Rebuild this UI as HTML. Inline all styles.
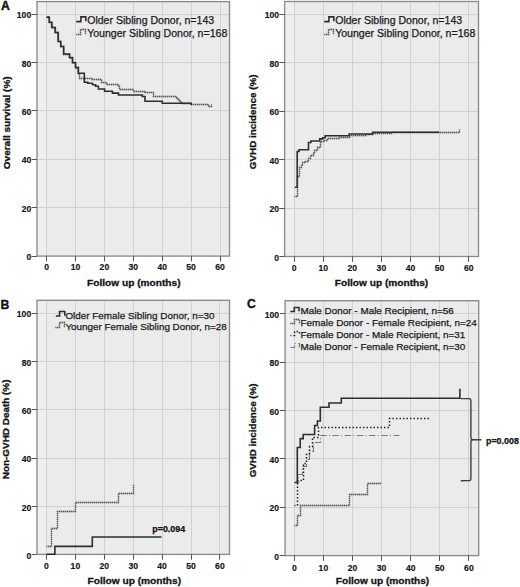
<!DOCTYPE html>
<html><head><meta charset="utf-8"><style>
html,body{margin:0;padding:0;background:#fff;}
svg{display:block;}
text{font-family:"Liberation Sans", sans-serif;fill:#111;}
.tk{font-size:8.6px;font-weight:bold;stroke:#111;stroke-width:0.15px;}
.pl{font-size:12.2px;font-weight:bold;stroke:#111;stroke-width:0.35px;}
.ax{font-weight:bold;stroke:#111;stroke-width:0.3px;}
.lg{fill:#1a1a1a;stroke:#1a1a1a;stroke-width:0.25px;}
.pv{font-size:8.9px;font-weight:bold;stroke:#111;stroke-width:0.25px;}
</style></head><body>
<svg width="520" height="587" viewBox="0 0 520 587">
<rect x="37.0" y="1.6" width="192.5" height="254.50000000000003" fill="#ebebeb"/>
<rect x="37.0" y="1.6" width="9.00" height="254.50000000000003" fill="#efefef"/>
<line x1="46.5" y1="1.6" x2="46.5" y2="256.1" stroke="#d1d1d1" stroke-width="1"/>
<line x1="75.5" y1="1.6" x2="75.5" y2="256.1" stroke="#d1d1d1" stroke-width="1"/>
<line x1="104.5" y1="1.6" x2="104.5" y2="256.1" stroke="#d1d1d1" stroke-width="1"/>
<line x1="133.5" y1="1.6" x2="133.5" y2="256.1" stroke="#d1d1d1" stroke-width="1"/>
<line x1="162.5" y1="1.6" x2="162.5" y2="256.1" stroke="#d1d1d1" stroke-width="1"/>
<line x1="191.5" y1="1.6" x2="191.5" y2="256.1" stroke="#d1d1d1" stroke-width="1"/>
<line x1="220.5" y1="1.6" x2="220.5" y2="256.1" stroke="#d1d1d1" stroke-width="1"/>
<line x1="37.0" y1="207.5" x2="229.5" y2="207.5" stroke="#d1d1d1" stroke-width="1"/>
<line x1="37.0" y1="159.5" x2="229.5" y2="159.5" stroke="#d1d1d1" stroke-width="1"/>
<line x1="37.0" y1="110.5" x2="229.5" y2="110.5" stroke="#d1d1d1" stroke-width="1"/>
<line x1="37.0" y1="62.5" x2="229.5" y2="62.5" stroke="#d1d1d1" stroke-width="1"/>
<line x1="37.0" y1="14.5" x2="229.5" y2="14.5" stroke="#d1d1d1" stroke-width="1"/>
<rect x="37.0" y="1.6" width="192.5" height="254.50000000000003" fill="none" stroke="#8a8a8a" stroke-width="1.35"/>
<line x1="46.5" y1="256.1" x2="46.5" y2="261.40000000000003" stroke="#555" stroke-width="1"/>
<text x="46.60" y="270.0" text-anchor="middle" class="tk">0</text>
<line x1="75.5" y1="256.1" x2="75.5" y2="261.40000000000003" stroke="#555" stroke-width="1"/>
<text x="75.50" y="270.0" text-anchor="middle" class="tk">10</text>
<line x1="104.5" y1="256.1" x2="104.5" y2="261.40000000000003" stroke="#555" stroke-width="1"/>
<text x="104.40" y="270.0" text-anchor="middle" class="tk">20</text>
<line x1="133.5" y1="256.1" x2="133.5" y2="261.40000000000003" stroke="#555" stroke-width="1"/>
<text x="133.30" y="270.0" text-anchor="middle" class="tk">30</text>
<line x1="162.5" y1="256.1" x2="162.5" y2="261.40000000000003" stroke="#555" stroke-width="1"/>
<text x="162.20" y="270.0" text-anchor="middle" class="tk">40</text>
<line x1="191.5" y1="256.1" x2="191.5" y2="261.40000000000003" stroke="#555" stroke-width="1"/>
<text x="191.10" y="270.0" text-anchor="middle" class="tk">50</text>
<line x1="220.5" y1="256.1" x2="220.5" y2="261.40000000000003" stroke="#555" stroke-width="1"/>
<text x="220.00" y="270.0" text-anchor="middle" class="tk">60</text>
<line x1="31.7" y1="256.5" x2="37.0" y2="256.5" stroke="#555" stroke-width="1"/>
<text x="31.2" y="260.10" text-anchor="end" class="tk">0</text>
<line x1="31.7" y1="207.5" x2="37.0" y2="207.5" stroke="#555" stroke-width="1"/>
<text x="31.2" y="211.74" text-anchor="end" class="tk">20</text>
<line x1="31.7" y1="159.5" x2="37.0" y2="159.5" stroke="#555" stroke-width="1"/>
<text x="31.2" y="163.38" text-anchor="end" class="tk">40</text>
<line x1="31.7" y1="110.5" x2="37.0" y2="110.5" stroke="#555" stroke-width="1"/>
<text x="31.2" y="115.02" text-anchor="end" class="tk">60</text>
<line x1="31.7" y1="62.5" x2="37.0" y2="62.5" stroke="#555" stroke-width="1"/>
<text x="31.2" y="66.66" text-anchor="end" class="tk">80</text>
<line x1="31.7" y1="14.5" x2="37.0" y2="14.5" stroke="#555" stroke-width="1"/>
<text x="31.2" y="18.30" text-anchor="end" class="tk">100</text>
<text x="0.9" y="9.7" class="pl">A</text>
<text transform="translate(9.9,122.8) rotate(-90) scale(1,0.95)" text-anchor="middle" class="ax" style="font-size:10.0px">Overall survival (%)</text>
<text transform="translate(133.8,285.7) scale(1,0.9)" text-anchor="middle" class="ax" style="font-size:10.15px">Follow up (months)</text>
<polyline points="46.50,17.50 49.50,17.50 49.50,22.50 51.50,22.50 51.50,27.50 55.50,27.50 55.50,32.50 58.50,32.50 58.50,41.50 60.50,41.50 60.50,46.50 63.50,46.50 63.50,54.50 69.50,54.50 69.50,57.50 72.50,57.50 72.50,62.50 75.50,62.50 75.50,67.50 78.50,67.50 78.50,73.50 79.50,73.50 79.50,78.50 92.50,78.50 92.50,79.50 101.50,79.50 101.50,82.50 106.50,82.50 106.50,84.50 118.50,84.50 118.50,86.50 119.50,86.50 119.50,89.50 133.50,89.50 133.50,91.50 144.50,91.50 144.50,92.50 153.50,92.50 153.50,96.50 176.50,96.50 176.50,98.50 177.50,98.50 177.50,99.50 179.50,99.50 179.50,101.50 180.50,101.50 180.50,102.50 182.50,102.50 182.50,103.50 191.50,103.50 191.50,104.50 208.50,104.50 208.50,106.50 211.50,106.50 211.50,104.50" fill="none" stroke="#a2a2a2" stroke-width="1.3"/>
<polyline points="46.50,17.50 49.50,17.50 49.50,22.50 51.50,22.50 51.50,27.50 55.50,27.50 55.50,32.50 58.50,32.50 58.50,41.50 60.50,41.50 60.50,46.50 63.50,46.50 63.50,54.50 69.50,54.50 69.50,57.50 72.50,57.50 72.50,62.50 75.50,62.50 75.50,67.50 78.50,67.50 78.50,73.50 79.50,73.50 79.50,78.50 92.50,78.50 92.50,79.50 101.50,79.50 101.50,82.50 106.50,82.50 106.50,84.50 118.50,84.50 118.50,86.50 119.50,86.50 119.50,89.50 133.50,89.50 133.50,91.50 144.50,91.50 144.50,92.50 153.50,92.50 153.50,96.50 176.50,96.50 176.50,98.50 177.50,98.50 177.50,99.50 179.50,99.50 179.50,101.50 180.50,101.50 180.50,102.50 182.50,102.50 182.50,103.50 191.50,103.50 191.50,104.50 208.50,104.50 208.50,106.50 211.50,106.50 211.50,104.50" fill="none" stroke="#585858" stroke-width="1.3" stroke-dasharray="1,1" stroke-dashoffset="0.5"/>
<polyline points="46.60,17.10 49.20,17.10 49.20,22.30 51.90,22.30 51.90,27.50 55.10,27.50 55.10,32.50 58.10,32.50 58.10,41.50 60.80,41.50 60.80,46.50 63.70,46.50 63.70,54.00 69.60,54.00 69.60,57.80 72.50,57.80 72.50,62.80 75.50,62.80 75.50,67.60 78.30,67.60 78.30,73.20 84.30,73.20 84.30,82.30 87.70,82.30 87.70,83.30 92.60,83.30 92.60,84.80 95.60,84.80 95.60,86.20 98.40,86.20 98.40,89.00 104.60,89.00 104.60,91.20 112.40,91.20 112.40,93.10 118.50,93.10 118.50,95.00 142.30,95.00 142.30,96.50 145.00,96.50 145.00,101.30 162.30,101.30 162.30,103.20 191.10,103.20 191.10,105.00" fill="none" stroke="#2e2e2e" stroke-width="1.6"/>
<polyline points="76.30,21.60 80.90,21.60 80.90,16.90 85.80,16.90 85.80,21.30" fill="none" stroke="#2e2e2e" stroke-width="1.6"/>
<text x="87.2" y="24.2" class="lg" style="font-size:10.56px">Older Sibling Donor, n=143</text>
<polyline points="76.50,34.50 80.50,34.50 80.50,29.50 85.50,29.50 85.50,34.50" fill="none" stroke="#a2a2a2" stroke-width="1.3"/>
<polyline points="76.50,34.50 80.50,34.50 80.50,29.50 85.50,29.50 85.50,34.50" fill="none" stroke="#585858" stroke-width="1.3" stroke-dasharray="1,1" stroke-dashoffset="0.5"/>
<text x="87.2" y="37.3" class="lg" style="font-size:10.56px">Younger Sibling Donor, n=168</text>
<rect x="284.6" y="1.5" width="193.89999999999998" height="255.0" fill="#ebebeb"/>
<rect x="284.6" y="1.5" width="9.40" height="255.0" fill="#efefef"/>
<line x1="294.5" y1="1.5" x2="294.5" y2="256.5" stroke="#d1d1d1" stroke-width="1"/>
<line x1="323.5" y1="1.5" x2="323.5" y2="256.5" stroke="#d1d1d1" stroke-width="1"/>
<line x1="352.5" y1="1.5" x2="352.5" y2="256.5" stroke="#d1d1d1" stroke-width="1"/>
<line x1="381.5" y1="1.5" x2="381.5" y2="256.5" stroke="#d1d1d1" stroke-width="1"/>
<line x1="410.5" y1="1.5" x2="410.5" y2="256.5" stroke="#d1d1d1" stroke-width="1"/>
<line x1="439.5" y1="1.5" x2="439.5" y2="256.5" stroke="#d1d1d1" stroke-width="1"/>
<line x1="468.5" y1="1.5" x2="468.5" y2="256.5" stroke="#d1d1d1" stroke-width="1"/>
<line x1="284.6" y1="208.5" x2="478.5" y2="208.5" stroke="#d1d1d1" stroke-width="1"/>
<line x1="284.6" y1="159.5" x2="478.5" y2="159.5" stroke="#d1d1d1" stroke-width="1"/>
<line x1="284.6" y1="111.5" x2="478.5" y2="111.5" stroke="#d1d1d1" stroke-width="1"/>
<line x1="284.6" y1="62.5" x2="478.5" y2="62.5" stroke="#d1d1d1" stroke-width="1"/>
<line x1="284.6" y1="14.5" x2="478.5" y2="14.5" stroke="#d1d1d1" stroke-width="1"/>
<rect x="284.6" y="1.5" width="193.89999999999998" height="255.0" fill="none" stroke="#8a8a8a" stroke-width="1.35"/>
<line x1="294.5" y1="256.5" x2="294.5" y2="261.8" stroke="#555" stroke-width="1"/>
<text x="294.10" y="271.2" text-anchor="middle" class="tk">0</text>
<line x1="323.5" y1="256.5" x2="323.5" y2="261.8" stroke="#555" stroke-width="1"/>
<text x="323.20" y="271.2" text-anchor="middle" class="tk">10</text>
<line x1="352.5" y1="256.5" x2="352.5" y2="261.8" stroke="#555" stroke-width="1"/>
<text x="352.30" y="271.2" text-anchor="middle" class="tk">20</text>
<line x1="381.5" y1="256.5" x2="381.5" y2="261.8" stroke="#555" stroke-width="1"/>
<text x="381.40" y="271.2" text-anchor="middle" class="tk">30</text>
<line x1="410.5" y1="256.5" x2="410.5" y2="261.8" stroke="#555" stroke-width="1"/>
<text x="410.50" y="271.2" text-anchor="middle" class="tk">40</text>
<line x1="439.5" y1="256.5" x2="439.5" y2="261.8" stroke="#555" stroke-width="1"/>
<text x="439.60" y="271.2" text-anchor="middle" class="tk">50</text>
<line x1="468.5" y1="256.5" x2="468.5" y2="261.8" stroke="#555" stroke-width="1"/>
<text x="468.70" y="271.2" text-anchor="middle" class="tk">60</text>
<line x1="279.3" y1="256.5" x2="284.6" y2="256.5" stroke="#555" stroke-width="1"/>
<text x="279.1" y="260.60" text-anchor="end" class="tk">0</text>
<line x1="279.3" y1="208.5" x2="284.6" y2="208.5" stroke="#555" stroke-width="1"/>
<text x="279.1" y="212.16" text-anchor="end" class="tk">20</text>
<line x1="279.3" y1="159.5" x2="284.6" y2="159.5" stroke="#555" stroke-width="1"/>
<text x="279.1" y="163.72" text-anchor="end" class="tk">40</text>
<line x1="279.3" y1="111.5" x2="284.6" y2="111.5" stroke="#555" stroke-width="1"/>
<text x="279.1" y="115.28" text-anchor="end" class="tk">60</text>
<line x1="279.3" y1="62.5" x2="284.6" y2="62.5" stroke="#555" stroke-width="1"/>
<text x="279.1" y="66.84" text-anchor="end" class="tk">80</text>
<line x1="279.3" y1="14.5" x2="284.6" y2="14.5" stroke="#555" stroke-width="1"/>
<text x="279.1" y="18.40" text-anchor="end" class="tk">100</text>
<text transform="translate(256.2,121.8) rotate(-90) scale(1,0.95)" text-anchor="middle" class="ax" style="font-size:9.88px">GVHD incidence (%)</text>
<text transform="translate(381.5,285.7) scale(1,0.9)" text-anchor="middle" class="ax" style="font-size:10.15px">Follow up (months)</text>
<polyline points="294.50,196.50 297.50,196.50 297.50,176.50 299.50,176.50 299.50,167.50 301.50,167.50 301.50,165.50 302.50,165.50 302.50,162.50 305.50,162.50 305.50,161.50 308.50,161.50 308.50,158.50 310.50,158.50 310.50,155.50 313.50,155.50 313.50,153.50 314.50,153.50 314.50,150.50 316.50,150.50 316.50,149.50 317.50,149.50 317.50,147.50 319.50,147.50 319.50,146.50 320.50,146.50 320.50,141.50 324.50,141.50 324.50,140.50 327.50,140.50 327.50,138.50 339.50,138.50 339.50,137.50 349.50,137.50 349.50,135.50 366.50,135.50 366.50,134.50 372.50,134.50 372.50,133.50 391.50,133.50 391.50,132.50 459.50,132.50 459.50,129.50" fill="none" stroke="#a2a2a2" stroke-width="1.3"/>
<polyline points="294.50,196.50 297.50,196.50 297.50,176.50 299.50,176.50 299.50,167.50 301.50,167.50 301.50,165.50 302.50,165.50 302.50,162.50 305.50,162.50 305.50,161.50 308.50,161.50 308.50,158.50 310.50,158.50 310.50,155.50 313.50,155.50 313.50,153.50 314.50,153.50 314.50,150.50 316.50,150.50 316.50,149.50 317.50,149.50 317.50,147.50 319.50,147.50 319.50,146.50 320.50,146.50 320.50,141.50 324.50,141.50 324.50,140.50 327.50,140.50 327.50,138.50 339.50,138.50 339.50,137.50 349.50,137.50 349.50,135.50 366.50,135.50 366.50,134.50 372.50,134.50 372.50,133.50 391.50,133.50 391.50,132.50 459.50,132.50 459.50,129.50" fill="none" stroke="#585858" stroke-width="1.3" stroke-dasharray="1,1" stroke-dashoffset="0.5"/>
<polyline points="294.80,187.30 297.20,187.30 297.20,151.50 299.00,151.50 299.00,149.70 308.50,149.70 308.50,142.50 310.90,142.50 310.90,141.00 319.70,141.00 319.70,138.90 322.80,138.90 322.80,137.70 325.20,137.70 325.20,135.80 349.20,135.80 349.20,134.00 372.60,134.00 372.60,132.20 439.30,132.20" fill="none" stroke="#2e2e2e" stroke-width="1.6"/>
<polyline points="324.30,21.60 328.90,21.60 328.90,16.90 333.80,16.90 333.80,21.30" fill="none" stroke="#2e2e2e" stroke-width="1.6"/>
<text x="335.2" y="24.2" class="lg" style="font-size:10.56px">Older Sibling Donor, n=143</text>
<polyline points="324.50,34.50 328.50,34.50 328.50,29.50 333.50,29.50 333.50,34.50" fill="none" stroke="#a2a2a2" stroke-width="1.3"/>
<polyline points="324.50,34.50 328.50,34.50 328.50,29.50 333.50,29.50 333.50,34.50" fill="none" stroke="#585858" stroke-width="1.3" stroke-dasharray="1,1" stroke-dashoffset="0.5"/>
<text x="335.2" y="37.3" class="lg" style="font-size:10.56px">Younger Sibling Donor, n=168</text>
<rect x="37.0" y="300.3" width="192.5" height="254.09999999999997" fill="#ebebeb"/>
<rect x="37.0" y="300.3" width="9.00" height="254.09999999999997" fill="#efefef"/>
<line x1="46.5" y1="300.3" x2="46.5" y2="554.4" stroke="#d1d1d1" stroke-width="1"/>
<line x1="75.5" y1="300.3" x2="75.5" y2="554.4" stroke="#d1d1d1" stroke-width="1"/>
<line x1="104.5" y1="300.3" x2="104.5" y2="554.4" stroke="#d1d1d1" stroke-width="1"/>
<line x1="133.5" y1="300.3" x2="133.5" y2="554.4" stroke="#d1d1d1" stroke-width="1"/>
<line x1="162.5" y1="300.3" x2="162.5" y2="554.4" stroke="#d1d1d1" stroke-width="1"/>
<line x1="191.5" y1="300.3" x2="191.5" y2="554.4" stroke="#d1d1d1" stroke-width="1"/>
<line x1="219.5" y1="300.3" x2="219.5" y2="554.4" stroke="#d1d1d1" stroke-width="1"/>
<line x1="37.0" y1="506.5" x2="229.5" y2="506.5" stroke="#d1d1d1" stroke-width="1"/>
<line x1="37.0" y1="458.5" x2="229.5" y2="458.5" stroke="#d1d1d1" stroke-width="1"/>
<line x1="37.0" y1="409.5" x2="229.5" y2="409.5" stroke="#d1d1d1" stroke-width="1"/>
<line x1="37.0" y1="361.5" x2="229.5" y2="361.5" stroke="#d1d1d1" stroke-width="1"/>
<line x1="37.0" y1="313.5" x2="229.5" y2="313.5" stroke="#d1d1d1" stroke-width="1"/>
<rect x="37.0" y="300.3" width="192.5" height="254.09999999999997" fill="none" stroke="#8a8a8a" stroke-width="1.35"/>
<line x1="46.5" y1="554.4" x2="46.5" y2="559.6999999999999" stroke="#555" stroke-width="1"/>
<text x="46.50" y="569.3" text-anchor="middle" class="tk">0</text>
<line x1="75.5" y1="554.4" x2="75.5" y2="559.6999999999999" stroke="#555" stroke-width="1"/>
<text x="75.40" y="569.3" text-anchor="middle" class="tk">10</text>
<line x1="104.5" y1="554.4" x2="104.5" y2="559.6999999999999" stroke="#555" stroke-width="1"/>
<text x="104.30" y="569.3" text-anchor="middle" class="tk">20</text>
<line x1="133.5" y1="554.4" x2="133.5" y2="559.6999999999999" stroke="#555" stroke-width="1"/>
<text x="133.20" y="569.3" text-anchor="middle" class="tk">30</text>
<line x1="162.5" y1="554.4" x2="162.5" y2="559.6999999999999" stroke="#555" stroke-width="1"/>
<text x="162.10" y="569.3" text-anchor="middle" class="tk">40</text>
<line x1="191.5" y1="554.4" x2="191.5" y2="559.6999999999999" stroke="#555" stroke-width="1"/>
<text x="191.00" y="569.3" text-anchor="middle" class="tk">50</text>
<line x1="219.5" y1="554.4" x2="219.5" y2="559.6999999999999" stroke="#555" stroke-width="1"/>
<text x="219.90" y="569.3" text-anchor="middle" class="tk">60</text>
<line x1="31.7" y1="554.5" x2="37.0" y2="554.5" stroke="#555" stroke-width="1"/>
<text x="31.2" y="559.00" text-anchor="end" class="tk">0</text>
<line x1="31.7" y1="506.5" x2="37.0" y2="506.5" stroke="#555" stroke-width="1"/>
<text x="31.2" y="510.68" text-anchor="end" class="tk">20</text>
<line x1="31.7" y1="458.5" x2="37.0" y2="458.5" stroke="#555" stroke-width="1"/>
<text x="31.2" y="462.36" text-anchor="end" class="tk">40</text>
<line x1="31.7" y1="409.5" x2="37.0" y2="409.5" stroke="#555" stroke-width="1"/>
<text x="31.2" y="414.04" text-anchor="end" class="tk">60</text>
<line x1="31.7" y1="361.5" x2="37.0" y2="361.5" stroke="#555" stroke-width="1"/>
<text x="31.2" y="365.72" text-anchor="end" class="tk">80</text>
<line x1="31.7" y1="313.5" x2="37.0" y2="313.5" stroke="#555" stroke-width="1"/>
<text x="31.2" y="317.40" text-anchor="end" class="tk">100</text>
<text x="0.4" y="308.5" class="pl">B</text>
<text transform="translate(9.4,429.4) rotate(-90) scale(1,0.95)" text-anchor="middle" class="ax" style="font-size:9.93px">Non-GVHD Death (%)</text>
<text transform="translate(134.3,583.8) scale(1,0.9)" text-anchor="middle" class="ax" style="font-size:10.15px">Follow up (months)</text>
<polyline points="46.50,546.50 51.50,546.50 51.50,528.50 57.50,528.50 57.50,511.50 75.50,511.50 75.50,502.50 118.50,502.50 118.50,493.50 133.50,493.50 133.50,484.50" fill="none" stroke="#a2a2a2" stroke-width="1.3"/>
<polyline points="46.50,546.50 51.50,546.50 51.50,528.50 57.50,528.50 57.50,511.50 75.50,511.50 75.50,502.50 118.50,502.50 118.50,493.50 133.50,493.50 133.50,484.50" fill="none" stroke="#585858" stroke-width="1.3" stroke-dasharray="1,1" stroke-dashoffset="0.5"/>
<polyline points="46.70,554.20 54.90,554.20 54.90,546.40 92.30,546.40 92.30,537.00 161.50,537.00" fill="none" stroke="#2e2e2e" stroke-width="1.6"/>
<polyline points="55.80,316.00 59.60,316.00 59.60,311.50 64.80,311.50 64.80,315.70" fill="none" stroke="#2e2e2e" stroke-width="1.6"/>
<text x="65.4" y="318.5" class="lg" style="font-size:9.9px">Older Female Sibling Donor, n=30</text>
<polyline points="55.50,327.50 59.50,327.50 59.50,322.50 64.50,322.50 64.50,327.50" fill="none" stroke="#a2a2a2" stroke-width="1.3"/>
<polyline points="55.50,327.50 59.50,327.50 59.50,322.50 64.50,322.50 64.50,327.50" fill="none" stroke="#585858" stroke-width="1.3" stroke-dasharray="1,1" stroke-dashoffset="0.5"/>
<text x="65.4" y="329.8" class="lg" style="font-size:9.9px">Younger Female Sibling Donor, n=28</text>
<text x="152.3" y="531.8" class="pv">p=0.094</text>
<rect x="285.1" y="300.7" width="193.59999999999997" height="254.90000000000003" fill="#ebebeb"/>
<rect x="285.1" y="300.7" width="8.90" height="254.90000000000003" fill="#efefef"/>
<line x1="294.5" y1="300.7" x2="294.5" y2="555.6" stroke="#d1d1d1" stroke-width="1"/>
<line x1="323.5" y1="300.7" x2="323.5" y2="555.6" stroke="#d1d1d1" stroke-width="1"/>
<line x1="352.5" y1="300.7" x2="352.5" y2="555.6" stroke="#d1d1d1" stroke-width="1"/>
<line x1="381.5" y1="300.7" x2="381.5" y2="555.6" stroke="#d1d1d1" stroke-width="1"/>
<line x1="410.5" y1="300.7" x2="410.5" y2="555.6" stroke="#d1d1d1" stroke-width="1"/>
<line x1="439.5" y1="300.7" x2="439.5" y2="555.6" stroke="#d1d1d1" stroke-width="1"/>
<line x1="468.5" y1="300.7" x2="468.5" y2="555.6" stroke="#d1d1d1" stroke-width="1"/>
<line x1="285.1" y1="507.5" x2="478.7" y2="507.5" stroke="#d1d1d1" stroke-width="1"/>
<line x1="285.1" y1="458.5" x2="478.7" y2="458.5" stroke="#d1d1d1" stroke-width="1"/>
<line x1="285.1" y1="410.5" x2="478.7" y2="410.5" stroke="#d1d1d1" stroke-width="1"/>
<line x1="285.1" y1="362.5" x2="478.7" y2="362.5" stroke="#d1d1d1" stroke-width="1"/>
<line x1="285.1" y1="313.5" x2="478.7" y2="313.5" stroke="#d1d1d1" stroke-width="1"/>
<rect x="285.1" y="300.7" width="193.59999999999997" height="254.90000000000003" fill="none" stroke="#8a8a8a" stroke-width="1.35"/>
<line x1="294.5" y1="555.6" x2="294.5" y2="560.9" stroke="#555" stroke-width="1"/>
<text x="294.30" y="571.0" text-anchor="middle" class="tk">0</text>
<line x1="323.5" y1="555.6" x2="323.5" y2="560.9" stroke="#555" stroke-width="1"/>
<text x="323.40" y="571.0" text-anchor="middle" class="tk">10</text>
<line x1="352.5" y1="555.6" x2="352.5" y2="560.9" stroke="#555" stroke-width="1"/>
<text x="352.50" y="571.0" text-anchor="middle" class="tk">20</text>
<line x1="381.5" y1="555.6" x2="381.5" y2="560.9" stroke="#555" stroke-width="1"/>
<text x="381.60" y="571.0" text-anchor="middle" class="tk">30</text>
<line x1="410.5" y1="555.6" x2="410.5" y2="560.9" stroke="#555" stroke-width="1"/>
<text x="410.70" y="571.0" text-anchor="middle" class="tk">40</text>
<line x1="439.5" y1="555.6" x2="439.5" y2="560.9" stroke="#555" stroke-width="1"/>
<text x="439.80" y="571.0" text-anchor="middle" class="tk">50</text>
<line x1="468.5" y1="555.6" x2="468.5" y2="560.9" stroke="#555" stroke-width="1"/>
<text x="468.90" y="571.0" text-anchor="middle" class="tk">60</text>
<line x1="279.8" y1="555.5" x2="285.1" y2="555.5" stroke="#555" stroke-width="1"/>
<text x="279.1" y="559.60" text-anchor="end" class="tk">0</text>
<line x1="279.8" y1="507.5" x2="285.1" y2="507.5" stroke="#555" stroke-width="1"/>
<text x="279.1" y="511.28" text-anchor="end" class="tk">20</text>
<line x1="279.8" y1="458.5" x2="285.1" y2="458.5" stroke="#555" stroke-width="1"/>
<text x="279.1" y="462.96" text-anchor="end" class="tk">40</text>
<line x1="279.8" y1="410.5" x2="285.1" y2="410.5" stroke="#555" stroke-width="1"/>
<text x="279.1" y="414.64" text-anchor="end" class="tk">60</text>
<line x1="279.8" y1="362.5" x2="285.1" y2="362.5" stroke="#555" stroke-width="1"/>
<text x="279.1" y="366.32" text-anchor="end" class="tk">80</text>
<line x1="279.8" y1="313.5" x2="285.1" y2="313.5" stroke="#555" stroke-width="1"/>
<text x="279.1" y="318.00" text-anchor="end" class="tk">100</text>
<text x="247.0" y="308.1" class="pl">C</text>
<text transform="translate(255.9,430.4) rotate(-90) scale(1,0.95)" text-anchor="middle" class="ax" style="font-size:9.79px">GVHD incidence (%)</text>
<text transform="translate(382.5,583.9) scale(1,0.9)" text-anchor="middle" class="ax" style="font-size:10.15px">Follow up (months)</text>
<polyline points="294.50,525.50 297.50,525.50 297.50,515.50 300.50,515.50 300.50,505.50 349.50,505.50 349.50,494.50 367.50,494.50 367.50,483.50 381.50,483.50" fill="none" stroke="#a2a2a2" stroke-width="1.3"/>
<polyline points="294.50,525.50 297.50,525.50 297.50,515.50 300.50,515.50 300.50,505.50 349.50,505.50 349.50,494.50 367.50,494.50 367.50,483.50 381.50,483.50" fill="none" stroke="#585858" stroke-width="1.3" stroke-dasharray="1,1" stroke-dashoffset="0.5"/>
<polyline points="294.50,482.50 298.50,482.50 298.50,474.50 302.50,474.50 302.50,466.50 306.50,466.50 306.50,459.50 309.50,459.50 309.50,451.50 313.50,451.50 313.50,442.50 320.50,442.50 320.50,435.50 399.50,435.50" fill="none" stroke="#7a7a7a" stroke-width="1.2" stroke-dasharray="6.5,2.2,1,2.5" stroke-dashoffset="0.5"/>
<polyline points="294.50,505.50 297.50,505.50 297.50,480.50 303.50,480.50 303.50,463.50 306.50,463.50 306.50,454.50 309.50,454.50 309.50,446.50 312.50,446.50 312.50,437.50 318.50,437.50 318.50,427.50 389.50,427.50 389.50,418.50 430.50,418.50" fill="none" stroke="#1a1a1a" stroke-width="1.5" stroke-dasharray="1.4,2.1" stroke-dashoffset="0.5"/>
<polyline points="294.60,482.50 297.30,482.50 297.30,447.50 300.20,447.50 300.20,438.60 303.20,438.60 303.20,434.50 314.60,434.50 314.60,425.50 317.40,425.50 317.40,421.00 320.30,421.00 320.30,407.30 329.00,407.30 329.00,403.00 341.30,403.00 341.30,398.30 459.90,398.30 459.90,388.70" fill="none" stroke="#2e2e2e" stroke-width="1.6"/>
<polyline points="290.30,311.50 294.30,311.50 294.30,307.50 299.00,307.50 299.00,311.20" fill="none" stroke="#2e2e2e" stroke-width="1.6"/>
<text x="300.4" y="314.1" class="lg" style="font-size:9.92px">Male Donor - Male Recipient, n=56</text>
<polyline points="290.50,323.50 294.50,323.50 294.50,319.50 299.50,319.50 299.50,323.50" fill="none" stroke="#a2a2a2" stroke-width="1.3"/>
<polyline points="290.50,323.50 294.50,323.50 294.50,319.50 299.50,319.50 299.50,323.50" fill="none" stroke="#585858" stroke-width="1.3" stroke-dasharray="1,1" stroke-dashoffset="0.5"/>
<text x="300.4" y="326.2" class="lg" style="font-size:9.92px">Female Donor - Female Recipient, n=24</text>
<polyline points="290.50,335.50 294.50,335.50 294.50,331.50 299.50,331.50 299.50,335.50" fill="none" stroke="#1a1a1a" stroke-width="1.5" stroke-dasharray="1.4,2.1" stroke-dashoffset="0.5"/>
<text x="300.4" y="338.4" class="lg" style="font-size:9.92px">Female Donor - Male Recipient, n=31</text>
<polyline points="290.50,347.50 294.50,347.50 294.50,343.50 299.50,343.50 299.50,347.50" fill="none" stroke="#7a7a7a" stroke-width="1.2" stroke-dasharray="6.5,2.2,1,2.5" stroke-dashoffset="0.5"/>
<text x="300.4" y="350.4" class="lg" style="font-size:9.92px">Male Donor - Female Recipient, n=30</text>
<path d="M460.5,398.6 L468.9,398.6 Q470.9,398.6 470.9,400.8 L470.9,437.4 Q470.9,439.7 473.1,439.7 L481.5,439.7 M473.1,439.7 Q470.9,439.7 470.9,442 L470.9,478.4 Q470.9,480.6 468.7,480.6 L460.8,480.8" fill="none" stroke="#404040" stroke-width="1.4"/>
<text x="486.0" y="443.7" class="pv">p=0.008</text>
</svg>
</body></html>
